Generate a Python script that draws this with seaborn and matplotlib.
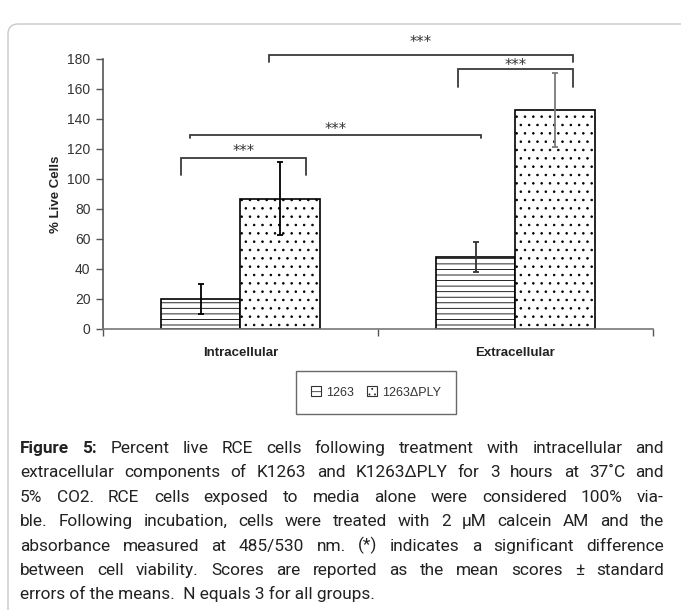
import numpy as np
import pandas as pd
import seaborn as sns
import matplotlib.pyplot as plt
from matplotlib.patches import FancyBboxPatch, Patch

# data
categories = ["Intracellular", "Extracellular"]
strains = ["1263", "1263\u0394PLY"]
live_1263 = [20, 48]
live_dply = [87, 146]
sem_1263 = [10, 10]
sem_dply = [24.5, 24.5]

# significance brackets: (x_left, x_right, y_top, y_drop, label)
brackets = [
    (-0.217, 0.238, 114.0, 102.4, "***"),
    (-0.184, 0.875, 129.1, 127.6, "***"),
    (0.791, 1.209, 173.3, 161.3, "***"),
    (0.104, 1.209, 182.7, 178.0, "***"),
]
bracket_label_y = [115.4, 130.0, 172.9, 187.8]

caption = [
    "Figure 5: Percent live RCE cells following treatment with intracellular and",
    "extracellular components of K1263 and K1263\u0394PLY for 3 hours at 37\u02daC and",
    "5% CO2.  RCE cells exposed to media alone were considered 100% via-",
    "ble.  Following incubation, cells were treated with 2 \u00b5M calcein AM and the",
    "absorbance measured at 485/530 nm.  (*) indicates a significant difference",
    "between cell viability.  Scores are reported as the mean scores \u00b1 standard",
    "errors of the means.  N equals 3 for all groups.",
]

sns.set_style("white")
plt.rcParams["font.family"] = ["Liberation Sans", "DejaVu Sans"]
plt.rcParams["hatch.linewidth"] = 0.6

W, H = 681, 610
fig = plt.figure(figsize=(W / 100, H / 100), dpi=100)

df = pd.DataFrame({
    "group": categories * 2,
    "strain": [strains[0]] * 2 + [strains[1]] * 2,
    "live": live_1263 + live_dply,
})

ax = fig.add_axes([103 / W, 1 - 329 / H, 550 / W, 270 / H])
sns.barplot(data=df, x="group", y="live", hue="strain", order=categories,
            hue_order=strains, width=0.575, errorbar=None,
            palette=["white", "white"], edgecolor="black", linewidth=1.2,
            legend=False, ax=ax)

hatches = ["---", ".."]
errs = [sem_1263, sem_dply]
err_cols = [["black", "#333333"], ["black", "#7a7a7a"]]
bar_conts = list(ax.containers)
for i, cont in enumerate(bar_conts):
    for j, bar in enumerate(cont):
        bar.set_hatch(hatches[i])
        xc = bar.get_x() + bar.get_width() / 2
        ax.errorbar(xc, bar.get_height(), yerr=errs[i][j], fmt="none",
                    ecolor=err_cols[i][j], elinewidth=1.3, capsize=2.5,
                    capthick=1.3, zorder=5)

ax.set_xlim(-0.5, 1.5)
ax.set_ylim(0, 180)
ax.set_yticks(range(0, 181, 20))
ax.set_xlabel("")
ax.set_ylabel("% Live Cells", fontsize=9.5, fontweight="bold", color="#222222")
ax.yaxis.set_label_coords(-0.075, 0.5)

for s in ["top", "right"]:
    ax.spines[s].set_visible(False)
ax.spines["left"].set_color("#555555")
ax.spines["bottom"].set_color("#777777")
ax.spines["left"].set_linewidth(1.2)
ax.spines["bottom"].set_linewidth(1.2)

ax.tick_params(axis="y", direction="out", length=5, width=1, color="#555555",
               labelsize=10, labelcolor="#333333", pad=4, left=True)
ax.tick_params(axis="x", which="major", length=0, pad=13)
ax.set_xticks([-0.5, 0.5, 1.5], minor=True)
ax.tick_params(axis="x", which="minor", direction="out", length=5, width=1,
               color="#555555", bottom=True)
for lab in ax.get_xticklabels():
    lab.set_fontweight("bold")
    lab.set_fontsize(9.5)
    lab.set_color("#222222")

for (x0, x1, yt, yd, lab), ly in zip(brackets, bracket_label_y):
    ax.plot([x0, x0, x1, x1], [yd, yt, yt, yd], color="#3a3a3a", lw=1.3,
            clip_on=False, solid_joinstyle="miter")
    ax.text((x0 + x1) / 2, ly, lab, ha="center", va="baseline", fontsize=10.5,
            family="DejaVu Sans", color="#333333", clip_on=False)

handles = [Patch(facecolor="white", edgecolor="#333333", hatch=h, lw=0.8)
           for h in ["---", "..."]]
leg = fig.legend(handles=handles, labels=strains, loc="center",
                 bbox_to_anchor=(376 / W, 1 - 392.5 / H), ncol=2,
                 frameon=True, fancybox=False, edgecolor="#444444",
                 fontsize=9, handlelength=0.8, handleheight=0.8,
                 borderpad=1.25, columnspacing=1.0, handletextpad=0.4)
leg.get_frame().set_linewidth(1.0)
for t in leg.get_texts():
    t.set_color("#333333")

# rounded outer frame
frame = FancyBboxPatch((0.08, -0.5), 7.5, 6.36,
                       boxstyle="round,pad=0,rounding_size=0.1",
                       transform=fig.dpi_scale_trans, facecolor="none",
                       edgecolor="#c8c8c8", lw=1.0, clip_on=False)
fig.patches.append(frame)

# justified caption
fig.canvas.draw()
renderer = fig.canvas.get_renderer()
cap_font = ["Roboto", "DejaVu Sans"]
x_left, x_right = 20, 664
base0, step = 453, 24.4
fs = 12.4
for k, line in enumerate(caption):
    y = 1 - (base0 + k * step) / H
    words = line.split()
    if k == len(caption) - 1:
        fig.text(x_left / W, y, line, fontsize=fs, va="baseline",
                 color="#222222", family=cap_font)
        continue
    objs = []
    for n, w in enumerate(words):
        bold = k == 0 and n < 2
        t = fig.text(0, y, w, fontsize=fs, va="baseline", color="#222222",
                     family=cap_font, fontweight="bold" if bold else "normal")
        objs.append(t)
    widths = [t.get_window_extent(renderer).width for t in objs]
    gap = (x_right - x_left - sum(widths)) / (len(words) - 1)
    xpos = x_left
    for t, wd in zip(objs, widths):
        t.set_x(xpos / W)
        xpos += wd + gap

fig.savefig("out.png", dpi=100)
